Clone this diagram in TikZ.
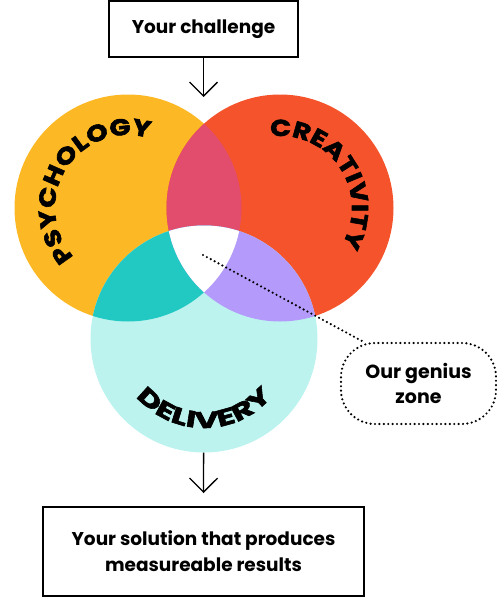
\documentclass[tikz,border=0pt]{standalone}
\usepackage{fontspec}
\setmainfont{Poppins}
\newfontfamily\widefont{Poppins}[FakeStretch=1.2,BoldFeatures={FakeBold=2.5}]
\newfontfamily\widerfont{Poppins}[FakeStretch=1.45,BoldFeatures={FakeBold=2.5}]
\usetikzlibrary{arrows.meta,calc,decorations.text}
\definecolor{psychcol}{HTML}{FDB825}
\definecolor{creatcol}{HTML}{F4532B}
\definecolor{delivcol}{HTML}{BCF3EF}
\definecolor{pinkcol}{HTML}{E24D6E}
\definecolor{tealcol}{HTML}{22C9C3}
\definecolor{lilaccol}{HTML}{B39AFB}
\tikzset{
    textbox/.style={
    rectangle,draw=black,line width=1.3pt,align=center,inner sep=0pt,
    font=\fontsize{18.5}{26}\selectfont\bfseries
    },
    dots/.style={
    line width=2.4pt,line cap=round,dash pattern=on 0pt off 4.4pt
    },
    zonebox/.style={
    rectangle,rounded corners=34pt,draw=black,dots,align=center,inner sep=0pt,
    minimum width=155pt,minimum height=81pt,font=\fontsize{19}{25}\selectfont\bfseries
    },
    ring/.style={
    circle,minimum size=227pt,inner sep=0pt
    },
    flow/.style={
    -{Straight Barb[length=14pt,width=28pt]},line width=1.3pt
    },
    arclabel/.style 2 args={
    decoration={text along path,text align=center,
      text={|#1\bfseries\fontsize{23}{23}\selectfont|#2}},
    decorate
    },
}
\begin{document}
\begin{tikzpicture}[x=1pt,y=1pt]
   \useasboundingbox (0,0) rectangle (497,-597);
   \node[ring,fill=psychcol] (psych) at (128,-208) {};
   \node[ring,fill=creatcol] (creat) at (280,-208) {};
   \node[ring,fill=delivcol] (deliv) at (204,-339) {};

   \begin{scope}
     \clip (psych.center) circle[radius=113.5pt];
     \fill[pinkcol] (creat.center) circle[radius=113.5pt];
     \fill[tealcol] (deliv.center) circle[radius=113.5pt];
   \end{scope}
   \begin{scope}
     \clip (creat.center) circle[radius=113.5pt];
     \fill[lilaccol] (deliv.center) circle[radius=113.5pt];
     \clip (psych.center) circle[radius=113.5pt];
     \fill[white] (deliv.center) circle[radius=113.5pt];
   \end{scope}

   \path[arclabel={\widefont}{PSYCHOLOGY}] (psych.center) ++(240:73pt) arc[start angle=240,end angle=55,radius=73pt];
   \path[arclabel={\widefont}{CREATIVITY}] (creat.center) ++(126:72pt) arc[start angle=126,end angle=-59,radius=72pt];
   \path[arclabel={\widerfont}{DELIVERY}] (deliv.center) ++(180:89pt) arc[start angle=180,end angle=360,radius=89pt];

   \node[textbox,minimum width=189pt,minimum height=56pt] (challenge) at (203.5,-29) {Your challenge};
   \node[textbox,minimum width=321pt,minimum height=89pt] (solution) at (203.5,-551.5) {Your solution that produces\\measureable results};
   \node[zonebox] (zone) at (418.5,-383.5) {Our genius\\zone};

   \coordinate (drop) at (203.5,-97);
   \coordinate (land) at (203.5,-493);
   \coordinate (spot) at (203,-255);
   \draw[flow] (challenge) -- (drop);
   \draw[flow] (deliv) -- (land);
   \draw[dots] (spot) -- ($(zone.north west)!0.15!(zone.north east)$);
\end{tikzpicture}
\end{document}
